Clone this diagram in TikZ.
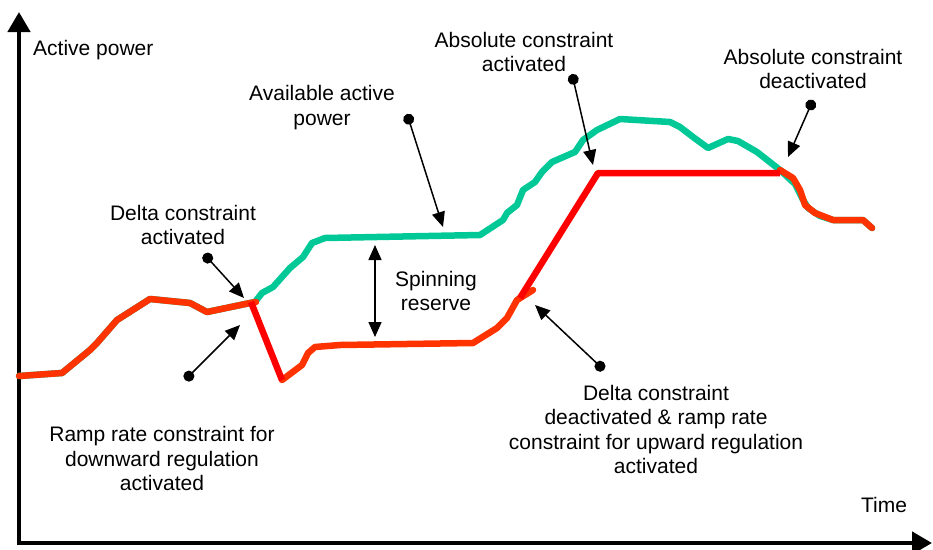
\documentclass[tikz,border=0pt]{standalone}
\usepackage{fontspec}
\setmainfont{Liberation Sans}
\usepackage{tikz}
\usetikzlibrary{arrows.meta}
\definecolor{availgreen}{RGB}{0,200,150}
\definecolor{outorange}{RGB}{255,51,0}
\definecolor{limred}{RGB}{255,0,0}

\begin{document}
\begin{tikzpicture}[x=1pt, y=-1pt,
	lbl/.style={align=center, inner sep=0pt, font=\fontsize{21}{24.5}\selectfont},
	curve/.style={line width=6.5pt, line join=round, line cap=round},
	pointer/.style={line width=1.5pt, {Circle[length=11pt]}-{Triangle[length=15pt,width=13pt]}},
	axis/.style={line width=4.5pt, -{Triangle[length=20pt,width=22pt]}}]
				\useasboundingbox (0,0) rectangle (933,549);
				% axes
				\coordinate (origin) at (19,543);
				\coordinate (ytop) at (19,12);
				\coordinate (xend) at (932,543);
				\draw[axis] (19,545)--(ytop);
				\draw[axis] (17,543)--(xend);
				\node[lbl, anchor=base west] (ylabel) at (33,55) {Active power};
				\node[lbl, anchor=base] (xlabel) at (884,512) {Time};
				% available active power
				\draw[curve, availgreen] (19,376)--(62,373)--(90,350)--(97,343)--(117,320)--(150,299)--(190,303)--(207,312)--(250,303)--(255,302)--(262,293)--(273,287)--(290,268)--(303,257)--(312,243)--(325,238)--(480,235)--(503,220)--(507,213)--(517,205)--(523,190)--(535,182)--(542,172)--(552,162)--(575,152)--(583,140)--(597,130)--(620,119)--(670,122)--(680,127)--(693,137)--(708,148)--(728,139)--(738,141)--(757,152)--(780,170)--(795,184)--(802,198)--(808,208)--(820,216)--(833,220)--(863,220)--(872,228);
				% actual output
				\draw[curve, outorange] (19,376)--(62,373)--(90,350)--(97,343)--(117,320)--(150,299)--(190,303)--(207,312)--(250,303)--(256,302);
				\draw[curve, outorange] (282,380)--(302,365)--(308,353)--(315,347)--(340,345)--(473,343)--(497,328)--(507,318)--(517,300)--(533,290);
				\draw[curve, outorange] (780,170)--(793,178)--(800,190)--(805,205)--(815,213)--(833,220)--(863,220)--(872,228);
				\draw[curve, limred, line cap=butt] (251,302)--(282,380);
				\draw[curve, limred, line cap=butt] (520,298)--(598,173)--(780,173);
				% spinning reserve
				\coordinate (srtop) at (375,245);
				\coordinate (srbot) at (375,337);
				\draw[line width=1.5pt, {Triangle[length=15pt,width=13pt]}-{Triangle[length=15pt,width=13pt]}] (srtop)--(srbot);
				\node[lbl] (spin) at (436,291) {Spinning\\reserve};
				% annotations
				\node[lbl] (avail) at (322,107.5) {Available active\\power};
				\coordinate (availdot) at (407,114);
				\coordinate (availtip) at (443,227);
				\draw[pointer] (availdot)--(availtip);
				\node[lbl] (deltaon) at (183,225) {Delta constraint\\activated};
				\coordinate (deltaondot) at (204,254);
				\coordinate (deltaontip) at (244,298);
				\draw[pointer] (deltaondot)--(deltaontip);
				\node[lbl] (rampdown) at (162,458.5) {Ramp rate constraint for\\downward regulation\\activated};
				\coordinate (rampdowndot) at (185,380);
				\coordinate (rampdowntip) at (240,325);
				\draw[pointer] (rampdowndot)--(rampdowntip);
				\node[lbl] (abson) at (524,52) {Absolute constraint\\activated};
				\coordinate (absondot) at (572,74);
				\coordinate (absontip) at (593,165);
				\draw[pointer] (absondot)--(absontip);
				\node[lbl] (absoff) at (813,69) {Absolute constraint\\deactivated};
				\coordinate (absoffdot) at (813,100);
				\coordinate (absofftip) at (788,157);
				\draw[pointer] (absoffdot)--(absofftip);
				\node[lbl] (deltaoff) at (656,429.5) {Delta constraint\\deactivated \& ramp rate\\constraint for upward regulation\\activated};
				\coordinate (deltaoffdot) at (604,370);
				\coordinate (deltaofftip) at (535,305);
				\draw[pointer] (deltaoffdot)--(deltaofftip);
			\end{tikzpicture}
\end{document}
